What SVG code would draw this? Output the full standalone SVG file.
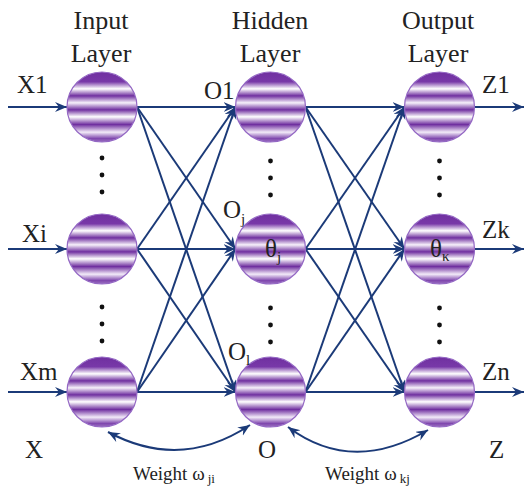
<svg xmlns="http://www.w3.org/2000/svg" width="528" height="490" viewBox="0 0 528 490">
<style>
.h{font-size:26px;text-anchor:middle;}
.l{font-size:25px;}
.w{font-size:19px;}
.c{stroke:#1b3a78;stroke-width:2;fill:none;marker-end:url(#ah);}
.n{fill:url(#g);stroke:#9468c4;stroke-width:1.2;}
.d{fill:#111;}
</style>
<defs>
<linearGradient id="g" x1="0" y1="0" x2="0" y2="1">
<stop offset="0" stop-color="#7030a0"/>
<stop offset="0.14" stop-color="#7838a8"/>
<stop offset="0.24" stop-color="#ffffff"/>
<stop offset="0.34" stop-color="#7030a0"/>
<stop offset="0.44" stop-color="#f6f0fa"/>
<stop offset="0.54" stop-color="#7030a0"/>
<stop offset="0.64" stop-color="#ffffff"/>
<stop offset="0.75" stop-color="#7030a0"/>
<stop offset="0.86" stop-color="#f2eaf8"/>
<stop offset="0.95" stop-color="#8048ae"/>
<stop offset="1" stop-color="#9a70c0"/>
</linearGradient>
<marker id="ah" markerUnits="userSpaceOnUse" markerWidth="13" markerHeight="11" refX="12" refY="5" orient="auto-start-reverse" viewBox="0 0 13 11">
<path d="M0,0 L12,5 L0,10 L4,5 z" fill="#1b3a78"/>
</marker>
</defs>

<g id="connectors">
<path class="c" d="M8,107 L67,107"/>
<path class="c" d="M8,249 L67,249"/>
<path class="c" d="M8,392 L67,392"/>
<path class="c" d="M137,107 L235.5,107"/>
<path class="c" d="M137,107 L235.5,249"/>
<path class="c" d="M137,107 L235.5,392"/>
<path class="c" d="M137,249 L235.5,107"/>
<path class="c" d="M137,249 L235.5,249"/>
<path class="c" d="M137,249 L235.5,392"/>
<path class="c" d="M137,392 L235.5,107"/>
<path class="c" d="M137,392 L235.5,249"/>
<path class="c" d="M137,392 L235.5,392"/>
<path class="c" d="M305.5,107 L404.5,107"/>
<path class="c" d="M305.5,107 L404.5,249"/>
<path class="c" d="M305.5,107 L404.5,392"/>
<path class="c" d="M305.5,249 L404.5,107"/>
<path class="c" d="M305.5,249 L404.5,249"/>
<path class="c" d="M305.5,249 L404.5,392"/>
<path class="c" d="M305.5,392 L404.5,107"/>
<path class="c" d="M305.5,392 L404.5,249"/>
<path class="c" d="M305.5,392 L404.5,392"/>
<path class="c" d="M474.5,107 L524,107"/>
<path class="c" d="M474.5,249 L524,249"/>
<path class="c" d="M474.5,392 L524,392"/>
<path class="c" d="M108,432 Q181,471 250,425" style="marker-start:url(#ah)"/>
<path class="c" d="M288,427 Q352,475 428,430" style="marker-start:url(#ah)"/>
</g>

<g font-family="Liberation Serif, DejaVu Serif, Noto Serif, serif" fill="#222">
<g id="in1"><circle class="n" cx="102" cy="107" r="35"/></g>
<g id="in2"><circle class="n" cx="102" cy="249" r="35"/></g>
<g id="in3"><circle class="n" cx="102" cy="392" r="35"/></g>
<g id="hid1"><circle class="n" cx="270.5" cy="107" r="35"/></g>
<g id="hid2"><circle class="n" cx="270.5" cy="249" r="35"/>
<text class="l" x="265" y="257">θ<tspan font-size="15" dy="5">j</tspan></text></g>
<g id="hid3"><circle class="n" cx="270.5" cy="392" r="35"/></g>
<g id="out1"><circle class="n" cx="439.5" cy="107" r="35"/></g>
<g id="out2"><circle class="n" cx="439.5" cy="249" r="35"/>
<text class="l" x="430" y="257">θ<tspan font-size="15" dy="4">κ</tspan></text></g>
<g id="out3"><circle class="n" cx="439.5" cy="392" r="35"/></g>

<g id="dots">
<circle class="d" cx="102" cy="158" r="2.4"/>
<circle class="d" cx="102" cy="175" r="2.4"/>
<circle class="d" cx="102" cy="192" r="2.4"/>
<circle class="d" cx="102" cy="307" r="2.4"/>
<circle class="d" cx="102" cy="324" r="2.4"/>
<circle class="d" cx="102" cy="341" r="2.4"/>
<circle class="d" cx="270.5" cy="161" r="2.4"/>
<circle class="d" cx="270.5" cy="178" r="2.4"/>
<circle class="d" cx="270.5" cy="195" r="2.4"/>
<circle class="d" cx="270.5" cy="308" r="2.4"/>
<circle class="d" cx="270.5" cy="325" r="2.4"/>
<circle class="d" cx="270.5" cy="342" r="2.4"/>
<circle class="d" cx="439.5" cy="161" r="2.4"/>
<circle class="d" cx="439.5" cy="178" r="2.4"/>
<circle class="d" cx="439.5" cy="195" r="2.4"/>
<circle class="d" cx="439.5" cy="308" r="2.4"/>
<circle class="d" cx="439.5" cy="325" r="2.4"/>
<circle class="d" cx="439.5" cy="342" r="2.4"/>
</g>

<g id="labels">
<text class="h" x="101" y="29">Input</text>
<text class="h" x="101" y="62">Layer</text>
<text class="h" x="270" y="29">Hidden</text>
<text class="h" x="270" y="62">Layer</text>
<text class="h" x="438" y="29">Output</text>
<text class="h" x="438" y="62">Layer</text>
<text class="l" x="17" y="93">X1</text>
<text class="l" x="204" y="99">O1</text>
<text class="l" x="482" y="93">Z1</text>
<text class="l" x="22" y="242">Xi</text>
<text class="l" x="223" y="218">O<tspan font-size="15" dy="6">j</tspan></text>
<text class="l" x="482" y="238">Zk</text>
<text class="l" x="20" y="380">Xm</text>
<text class="l" x="228" y="360">O<tspan font-size="15" dy="5">l</tspan></text>
<text class="l" x="482" y="380">Zn</text>
<text class="l" x="25" y="458">X</text>
<text class="l" x="258" y="458">O</text>
<text class="l" x="489" y="458">Z</text>
<text class="w" x="133" y="480">Weight ω<tspan font-size="13" dx="3" dy="3">ji</tspan></text>
<text class="w" x="325" y="480">Weight ω<tspan font-size="13" dx="3" dy="3">kj</tspan></text>
</g>
</g>
</svg>
